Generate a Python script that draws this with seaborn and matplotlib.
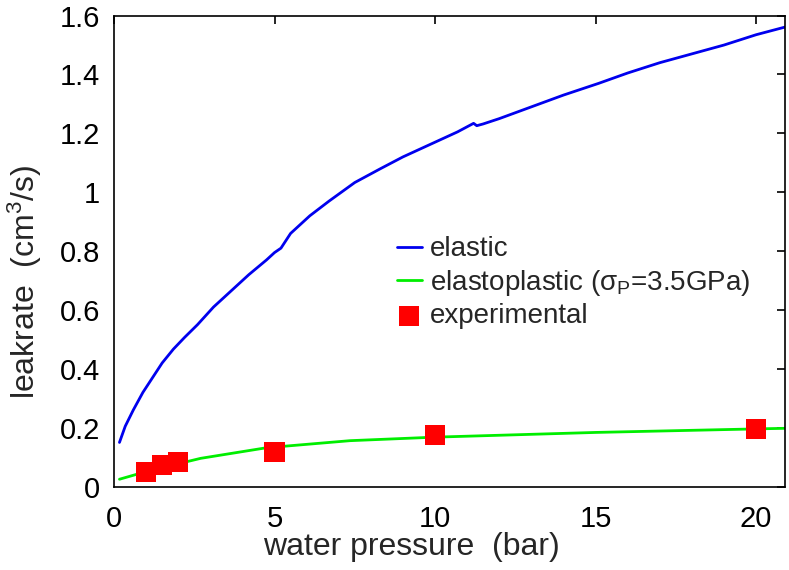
import pandas as pd
import matplotlib
matplotlib.use("Agg")
import matplotlib.pyplot as plt
import seaborn as sns

# elastic model curve
elastic_x = [0.17, 0.35, 0.6, 0.9, 1.2, 1.5, 1.85, 2.2, 2.6, 3.1, 3.7, 4.2, 4.75, 5.0,
             5.2, 5.5, 6.1, 6.7, 7.5, 8.3, 9.0, 10.0, 10.7, 11.2, 11.3, 11.5, 12.0,
             13.0, 14.0, 15.1, 16.0, 17.0, 18.0, 19.0, 20.0, 20.9]
elastic_y = [0.15, 0.205, 0.26, 0.32, 0.37, 0.42, 0.467, 0.507, 0.55, 0.61, 0.67, 0.72,
             0.77, 0.795, 0.81, 0.86, 0.92, 0.97, 1.033, 1.08, 1.12, 1.17, 1.205, 1.234,
             1.226, 1.232, 1.25, 1.29, 1.33, 1.37, 1.405, 1.44, 1.47, 1.50, 1.535, 1.561]

# elastoplastic model curve
plastic_x = [0.17, 1.1, 2.7, 4.75, 7.35, 10.0, 12.5, 15.0, 17.5, 20.0, 20.9]
plastic_y = [0.025, 0.054, 0.096, 0.132, 0.156, 0.168, 0.176, 0.184, 0.19, 0.196, 0.198]

# measurements
exp_x = [1.0, 1.5, 2.0, 5.0, 10.0, 20.0]
exp_y = [0.049, 0.073, 0.083, 0.119, 0.175, 0.195]

sns.set_style("white")
plt.rcParams['font.family'] = ['Liberation Sans', 'DejaVu Sans']
plt.rcParams['mathtext.fontset'] = 'custom'
plt.rcParams['mathtext.rm'] = 'Liberation Sans'
plt.rcParams['mathtext.it'] = 'Liberation Sans'

fig = plt.figure(figsize=(7.89, 5.70), dpi=100)
ax = fig.add_axes([114 / 789, 1 - 486.6 / 570, 671 / 789, 471 / 570])

df_el = pd.DataFrame({'x': elastic_x, 'y': elastic_y})
df_pl = pd.DataFrame({'x': plastic_x, 'y': plastic_y})
df_ex = pd.DataFrame({'x': exp_x, 'y': exp_y})

sns.lineplot(data=df_el, x='x', y='y', ax=ax, color='#0000ee', lw=2,
             label='elastic', sort=False)
sns.lineplot(data=df_pl, x='x', y='y', ax=ax, color='#00ee00', lw=2,
             label=r'elastoplastic ($\sigma_{\mathregular{P}}$=3.5GPa)', sort=False)
sns.scatterplot(data=df_ex, x='x', y='y', ax=ax, color='#ff0000', marker='s',
                s=210, edgecolor='none', label='experimental', zorder=5)

ax.set_xlim(0, 20.9)
ax.set_ylim(0, 1.6)
ax.set_xticks([0, 5, 10, 15, 20])
ax.set_yticks([0, 0.2, 0.4, 0.6, 0.8, 1.0, 1.2, 1.4, 1.6])
ax.set_yticklabels(['0', '0.2', '0.4', '0.6', '0.8', '1', '1.2', '1.4', '1.6'])
ax.tick_params(direction='in', length=5.5, width=1.2, top=True, right=True,
               labelsize=21, colors='black')
ax.tick_params(axis='y', pad=10)
ax.tick_params(axis='x', pad=13)
for s in ax.spines.values():
    s.set_color('black')
    s.set_linewidth(1.2)

ax.set_xlabel('water pressure  (bar)', fontsize=23)
ax.set_ylabel('leakrate  (cm$^3$/s)', fontsize=23)
ax.xaxis.set_label_coords(0.443, -0.097)
ax.yaxis.set_label_coords(-0.105, 0.434)

leg = ax.legend(loc='upper left', bbox_to_anchor=(0.405, 0.555), frameon=False,
                fontsize=20, handlelength=0.9, handletextpad=0.3,
                labelspacing=0.2, borderaxespad=0)

fig.savefig('out.png', dpi=100)
